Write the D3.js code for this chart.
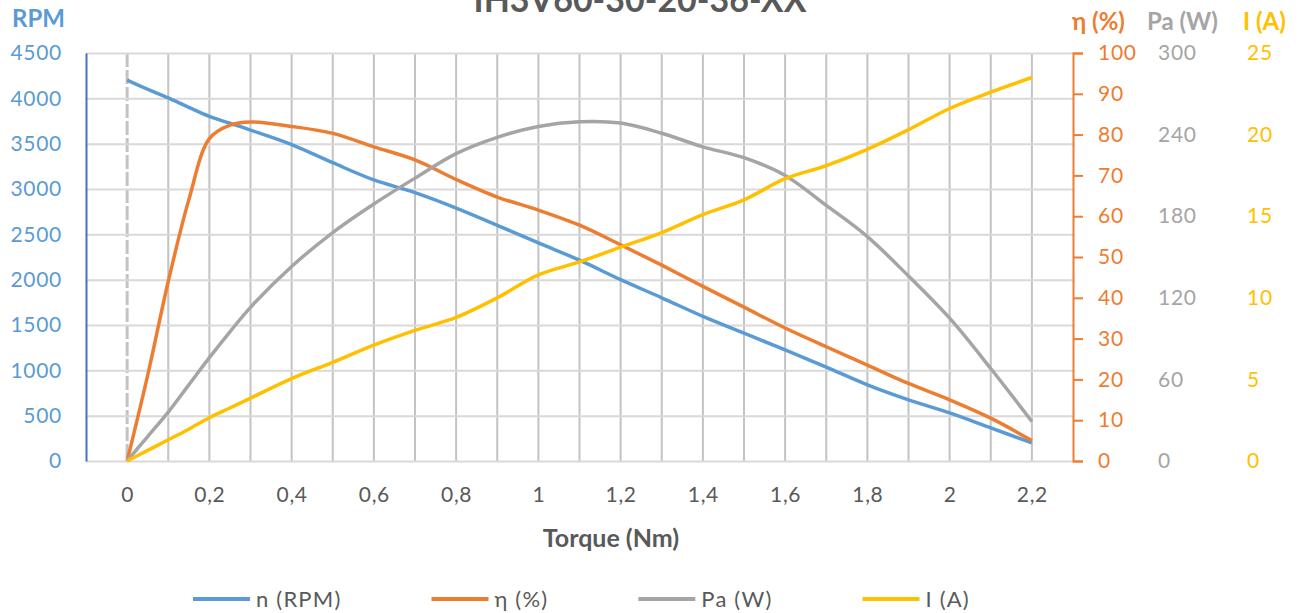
<!DOCTYPE html>
<html>
  <head>
    <meta charset="utf-8">
    <title>IH3V60-30-20-36-XX</title>
    <style media="screen">
      body {
        margin: 0;
        background: #fff;
      }
      svg text {
        font-family: Lato, "Open Sans", sans-serif;
      }
    </style>
  </head>
  <body>
    <div id="chart"></div>
  </body>
  <script type="text/javascript" src="https://cdnjs.cloudflare.com/ajax/libs/d3/7.8.5/d3.min.js"></script>
  <script type="text/javascript">
  // values
  var torque = [0, 0.05, 0.1, 0.15, 0.2, 0.25, 0.3, 0.4, 0.5, 0.6, 0.7, 0.8, 0.9, 1.0,
                1.1, 1.2, 1.3, 1.4, 1.5, 1.6, 1.7, 1.8, 1.9, 2.0, 2.1, 2.2];
  var rpm = [4200, 4100, 4004, 3900, 3800, 3725, 3650, 3490, 3290, 3100, 2960, 2790, 2600, 2405,
             2215, 2000, 1800, 1595, 1410, 1225, 1035, 840, 675, 530, 365, 200];
  var eff = [0, 21, 44, 64, 79, 82.3, 83.1, 82, 80.3, 77, 73.8, 69, 64.7, 61.5,
             57.8, 53, 48, 42.8, 37.7, 32.6, 28, 23.5, 19, 15, 10.5, 5];
  var power = [0, 18, 36, 56, 76, 95, 113, 143, 168, 189, 208, 226, 238, 246,
               249.5, 248.5, 241, 231, 223, 210, 188, 165, 136, 105, 68, 29];
  var current = [0, 0.65, 1.3, 1.95, 2.65, 3.25, 3.85, 5.05, 6.05, 7.1, 8.0, 8.8, 10.0, 11.4,
                 12.2, 13.1, 14.0, 15.1, 16.0, 17.3, 18.1, 19.1, 20.3, 21.6, 22.6, 23.5];

  var xTicks = [0, 0.2, 0.4, 0.6, 0.8, 1, 1.2, 1.4, 1.6, 1.8, 2, 2.2];
  var rpmTicks = [0, 500, 1000, 1500, 2000, 2500, 3000, 3500, 4000, 4500];
  var effTicks = [0, 10, 20, 30, 40, 50, 60, 70, 80, 90, 100];
  var powerTicks = [0, 60, 120, 180, 240, 300];
  var currentTicks = [0, 5, 10, 15, 20, 25];
  var legendNames = ['n (RPM)', 'η (%)', 'Pa (W)', 'I (A)'];

  var blue = '#5b9bd5', orange = '#ed7d31', grey = '#a5a5a5', yellow = '#ffc000', dark = '#595959';

  var w = 1308, h = 613;
  var plotL = 86, plotR = 1073, plotT = 53, plotB = 461;
  var svg = d3.select('#chart').append('svg').attr('width', w).attr('height', h);

  var x = d3.scaleLinear().domain([-0.1, 2.3]).range([plotL, plotR]);
  var yRpm = d3.scaleLinear().domain([0, 4500]).range([plotB, plotT]);
  var yEff = d3.scaleLinear().domain([0, 100]).range([plotB, plotT]);
  var yPow = d3.scaleLinear().domain([0, 300]).range([plotB, plotT]);
  var yCur = d3.scaleLinear().domain([0, 25]).range([plotB, plotT]);
  var comma = function(v) { return d3.format('~g')(v).replace('.', ','); };

  // vertical grid every 0.1
  var vgrid = d3.range(0, 23).map(function(i) { return i / 10; });
  svg.append('g').selectAll('line').data(vgrid).enter().append('line')
     .attr('x1', function(d) { return x(d); }).attr('x2', function(d) { return x(d); })
     .attr('y1', plotT).attr('y2', plotB)
     .style('stroke', '#c3c3c3')
     .style('stroke-width', function(d, i) { return i == 0 ? 3 : 2; })
     .style('stroke-dasharray', function(d, i) { return i == 0 ? '14,3' : null; });

  // horizontal grid
  svg.append('g')
     .attr('transform', 'translate(' + plotL + ',0)')
     .call(d3.axisLeft(yRpm).tickValues(rpmTicks).tickSize(-(plotR - plotL)).tickFormat(''))
     .call(function(g) {
       g.select('.domain').remove();
       g.selectAll('line').style('stroke', '#d9d9d9').style('stroke-width', 2);
     });

  function styleText(sel, color) {
    sel.selectAll('text').style('fill', color).style('font-size', '21px')
       .style('letter-spacing', '0.7px').style('font-family', 'Lato');
  }

  // left axis
  var axL = svg.append('g')
     .attr('transform', 'translate(' + plotL + ',0)')
     .call(d3.axisLeft(yRpm).tickValues(rpmTicks).tickSize(0).tickPadding(24).tickFormat(d3.format('d')));
  axL.select('.domain').style('stroke', '#4472c4').style('stroke-width', 2);
  styleText(axL, blue);

  // orange axis
  var axE = svg.append('g')
     .attr('transform', 'translate(' + plotR + ',0)')
     .call(d3.axisRight(yEff).tickValues(effTicks).tickSize(10).tickPadding(15));
  axE.select('.domain').style('stroke', orange).style('stroke-width', 2);
  axE.selectAll('line').style('stroke', orange).style('stroke-width', 2);
  styleText(axE, orange);

  // grey and yellow label columns
  var axP = svg.append('g')
     .attr('transform', 'translate(1158,0)')
     .call(d3.axisRight(yPow).tickValues(powerTicks).tickSize(0).tickPadding(0));
  axP.select('.domain').remove();
  styleText(axP, grey);
  var axC = svg.append('g')
     .attr('transform', 'translate(1247,0)')
     .call(d3.axisRight(yCur).tickValues(currentTicks).tickSize(0).tickPadding(0));
  axC.select('.domain').remove();
  styleText(axC, yellow);

  // x axis labels
  var axX = svg.append('g')
     .attr('transform', 'translate(0,' + plotB + ')')
     .call(d3.axisBottom(x).tickValues(xTicks).tickSize(0).tickPadding(26).tickFormat(comma));
  axX.select('.domain').remove();
  styleText(axX, dark);

  // series
  var series = [
    {values: rpm, y: yRpm, color: blue},
    {values: eff, y: yEff, color: orange},
    {values: power, y: yPow, color: grey},
    {values: current, y: yCur, color: yellow}
  ];
  series.forEach(function(s) {
    var line = d3.line()
      .x(function(d, i) { return x(torque[i]); })
      .y(function(d) { return s.y(d); })
      .curve(d3.curveCatmullRom.alpha(0.5));
    svg.append('path').datum(s.values)
       .attr('d', line)
       .style('fill', 'none')
       .style('stroke', s.color)
       .style('stroke-width', 3.5)
       .style('stroke-linejoin', 'round');
  });

  // titles
  svg.append('text').attr('x', 640).attr('y', 12).attr('text-anchor', 'middle')
     .style('font-size', '34px').style('font-weight', 'bold').style('fill', dark)
     .text('IH3V60-30-20-36-XX');
  svg.append('text').attr('x', 611).attr('y', 547).attr('text-anchor', 'middle')
     .style('font-size', '25px').style('font-weight', 'bold').style('fill', dark)
     .text('Torque (Nm)');
  svg.append('text').attr('x', 12).attr('y', 27)
     .style('font-size', '24px').style('font-weight', 'bold').style('fill', blue).text('RPM');
  svg.append('text').attr('x', 1072).attr('y', 30)
     .style('font-size', '24px').style('font-weight', 'bold').style('fill', orange).text('η (%)');
  svg.append('text').attr('x', 1147).attr('y', 30)
     .style('font-size', '24px').style('font-weight', 'bold').style('fill', grey).text('Pa (W)');
  svg.append('text').attr('x', 1243).attr('y', 30)
     .style('font-size', '24px').style('font-weight', 'bold').style('fill', yellow).text('I (A)');

  // legend
  var lx = 193;
  series.forEach(function(s, i) {
    var g = svg.append('g').attr('class', 'legend');
    g.append('line').attr('x1', lx).attr('x2', lx + 57).attr('y1', 599).attr('y2', 599)
     .style('stroke', s.color).style('stroke-width', 4);
    var t = g.append('text').attr('x', lx + 63).attr('y', 607)
     .style('font-size', '22px').style('letter-spacing', '1.2px').style('fill', dark)
     .text(legendNames[i]);
    lx += 63 + t.node().getComputedTextLength() + 90;
  });
  </script>
</html>
